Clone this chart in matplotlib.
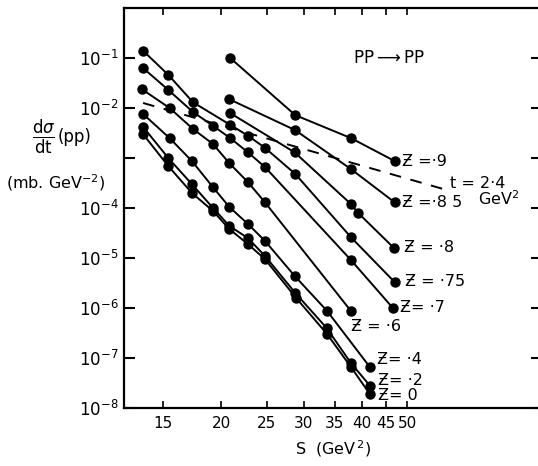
import matplotlib
matplotlib.use("Agg")
from matplotlib import pyplot as plt

# S (GeV^2) and dsigma/dt (mb GeV^-2)
s_z90 = [20.9, 28.8, 37.9, 47.0]
d_z90 = [1.0e-1, 7.2e-3, 2.5e-3, 8.7e-4]

s_z85 = [20.8, 28.8, 37.9, 47.0]
d_z85 = [1.5e-2, 3.6e-3, 6.0e-4, 1.3e-4]

s_z80 = [20.9, 28.7, 37.9, 39.3, 46.8]
d_z80 = [7.9e-3, 1.3e-3, 1.2e-4, 7.9e-5, 1.6e-5]

s_z75 = [13.6, 15.4, 17.4, 20.9, 22.8, 24.8, 28.8, 37.9, 47.0]
d_z75 = [1.4e-1, 4.6e-2, 1.3e-2, 4.6e-3, 2.8e-3, 1.6e-3, 4.8e-4, 2.6e-5, 3.3e-6]

s_z70 = [13.6, 15.4, 17.4, 19.2, 20.9, 22.8, 24.8, 37.9, 46.6]
d_z70 = [6.3e-2, 2.3e-2, 8.3e-3, 4.4e-3, 2.5e-3, 1.3e-3, 6.6e-4, 9.1e-6, 1.0e-6]

s_z60 = [13.5, 15.5, 17.4, 19.2, 20.8, 22.8, 24.8, 37.9]
d_z60 = [2.4e-2, 1.0e-2, 3.8e-3, 1.9e-3, 7.9e-4, 3.3e-4, 1.3e-4, 8.7e-7]

s_z40 = [13.6, 15.5, 17.3, 19.2, 20.8, 22.8, 24.8, 28.7, 33.7, 41.6]
d_z40 = [7.6e-3, 2.5e-3, 8.7e-4, 2.6e-4, 1.05e-4, 4.8e-5, 2.2e-5, 4.4e-6, 8.7e-7, 6.6e-8]

s_z20 = [13.6, 15.4, 17.3, 19.2, 20.8, 22.8, 24.8, 28.8, 33.6, 37.9, 41.6]
d_z20 = [4.2e-3, 1.0e-3, 3.0e-4, 1.0e-4, 4.4e-5, 2.5e-5, 1.1e-5, 2.0e-6, 4.0e-7, 7.9e-8, 2.8e-8]

s_z00 = [13.6, 15.4, 17.3, 19.2, 20.8, 22.8, 24.8, 28.9, 33.7, 37.9, 41.6]
d_z00 = [3.0e-3, 6.9e-4, 2.0e-4, 8.7e-5, 3.8e-5, 1.9e-5, 9.5e-6, 1.6e-6, 3.0e-7, 6.6e-8, 1.9e-8]

# fixed t = 2.4 GeV^2 line
s_t24 = [13.6, 61.7]
d_t24 = [1.26e-2, 2.2e-4]

labels = ["Ƶ =·9", "Ƶ =·8 5", "Ƶ = ·8", "Ƶ = ·75", "Ƶ= ·7", "Ƶ = ·6", "Ƶ= ·4", "Ƶ= ·2", "Ƶ= 0"]
curves = [(s_z90, d_z90), (s_z85, d_z85), (s_z80, d_z80), (s_z75, d_z75), (s_z70, d_z70),
          (s_z60, d_z60), (s_z40, d_z40), (s_z20, d_z20), (s_z00, d_z00)]
# label offsets from the last point, in pixels
offs = [(7, 0), (7, 0), (10, 0), (10, 1), (7, 0), (0, -15), (7, 8), (8, 5), (8, -1)]

xticks = [15, 20, 25, 30, 35, 40, 45, 50]
yticks = [1e-1, 1e-2, 1e-3, 1e-4, 1e-5, 1e-6, 1e-7, 1e-8]
ylabels = ["$10^{-1}$", "$10^{-2}$", "", "$10^{-4}$", "$10^{-5}$", "$10^{-6}$", "$10^{-7}$", "$10^{-8}$"]

fig = plt.figure(figsize=(5.38, 4.66), dpi=100)
ax = fig.add_axes([124 / 538, 58 / 466, 418 / 538, 400 / 466])

for (s, d), lab, o in zip(curves, labels, offs):
	ax.plot(s, d, color="black", lw=1.4, marker="o", ms=6.5, solid_capstyle="round")
	ax.annotate(lab, xy=(s[-1], d[-1]), xytext=o, textcoords="offset pixels",
	            ha="left", va="center", fontsize=11.5)

ax.plot(s_t24, d_t24, color="black", lw=1.4, linestyle=(0, (6, 5)))
ax.text(61.7, 2.2e-4, "t = 2·4", ha="left", va="bottom", fontsize=11.5)
ax.text(71, 2.4e-4, "GeV$^2$", ha="left", va="top", fontsize=11.5)
ax.text(0.548, 0.875, "PP$\\longrightarrow$PP", transform=ax.transAxes, ha="left", va="center", fontsize=12)

ax.set_xscale("log")
ax.set_yscale("log")
ax.set_xlim(12.38, 97.2)
ax.set_ylim(1e-8, 1e0)

ax.set_xticks(xticks)
ax.set_xticklabels([str(v) for v in xticks], fontsize=11)
ax.xaxis.set_minor_locator(matplotlib.ticker.NullLocator())
ax.set_yticks(yticks)
ax.set_yticklabels(ylabels, fontsize=12)
ax.yaxis.set_minor_locator(matplotlib.ticker.NullLocator())
ax.tick_params(axis="x", direction="in", length=5, width=1.2, top=True, pad=6)
ax.tick_params(axis="y", direction="in", length=8, width=1.5, right=True, pad=4)
for sp in ax.spines.values():
	sp.set_linewidth(1.6)

ax.set_xlabel("S  (GeV$^{\\,2}$)", fontsize=11.5, labelpad=5)

# y axis title drawn by hand like the original
fig.text(44 / 538, 1 - 137 / 466, r"$\frac{\mathrm{d}\sigma}{\mathrm{dt}}$", fontsize=17, ha="center", va="center")
fig.text(58 / 538, 1 - 137 / 466, "(pp)", fontsize=12, ha="left", va="center")
fig.text(6 / 538, 1 - 183 / 466, "(mb. GeV$^{-2}$)", fontsize=11.5, ha="left", va="center")

plt.savefig("out.png", dpi=100)
